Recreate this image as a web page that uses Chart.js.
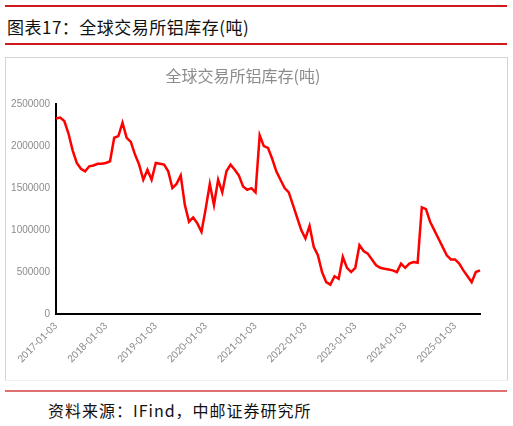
<!DOCTYPE html>
<html><head><meta charset="utf-8">
<script src="https://cdn.jsdelivr.net/npm/chart.js@4"></script>
<style>
body{margin:0;width:513px;height:426px;background:#fff;font-family:"Noto Sans CJK SC",sans-serif;position:relative;overflow:hidden}
.l{position:absolute;left:5px;width:502px;height:1.5px;background:#d0191c}
#hd{position:absolute;left:7px;top:14px;font-size:17px;color:#111;letter-spacing:0.5px}
#box{position:absolute;left:5px;top:57px;width:501px;height:322px;border:1px solid #d4d4d4;border-bottom-color:#f0f0f0;overflow:hidden}
#src{position:absolute;left:48px;top:398px;font-size:16px;color:#111;letter-spacing:1px}
</style></head><body>
<div class="l" style="top:5px"></div>
<div id="hd">图表17：全球交易所铝库存(吨)</div>
<div class="l" style="top:43px"></div>
<div id="box"><canvas id="c" width="501" height="322"></canvas></div>
<div class="l" style="top:390px;background:#e07070"></div>
<div id="src">资料来源：IFind，中邮证券研究所</div>
<script>
const years=[2017,2018,2019,2020,2021,2022,2023,2024,2025];
const v2017=[2330000,2340000,2300000,2150000,1950000,1800000,1730000,1700000,1760000,1770000,1790000,1790000];
const v2018=[1800000,1820000,2100000,2120000,2280000,2100000,2050000,1900000,1780000,1600000,1720000,1600000];
const v2019=[1800000,1790000,1780000,1700000,1500000,1550000,1650000,1300000,1100000,1150000,1080000,980000];
const v2020=[1250000,1550000,1300000,1600000,1450000,1700000,1780000,1720000,1650000,1520000,1480000,1500000];
const v2021=[1450000,2130000,2000000,1980000,1850000,1700000,1600000,1500000,1450000,1300000,1150000,1000000];
const v2022=[900000,1050000,800000,700000,500000,380000,350000,450000,420000,680000,550000,500000];
const v2023=[550000,820000,750000,720000,650000,580000,550000,540000,530000,520000,500000,600000];
const v2024=[550000,600000,620000,610000,1270000,1250000,1100000,1000000,900000,800000,700000,650000];
const v2025=[650000,600000,520000,450000,380000,500000,520000];
const series=[v2017,v2018,v2019,v2020,v2021,v2022,v2023,v2024,v2025];
const labels=[],values=[];
series.forEach((arr,i)=>arr.forEach((v,m)=>{labels.push(years[i]+'-'+String(m+1).padStart(2,'0')+'-03');values.push(v);}));
new Chart(document.getElementById('c'),{type:'line',
data:{labels,datasets:[{data:values,borderColor:'#ff0000',borderWidth:2.5,pointRadius:0,tension:0}]},
options:{animation:false,responsive:false,
layout:{padding:{right:27,top:0}},
plugins:{legend:{display:false},tooltip:{enabled:false},
 title:{display:true,text:'全球交易所铝库存(吨)',color:'#8c8c8c',font:{size:16,family:'"Noto Sans CJK SC"',weight:'normal'},padding:{top:8,bottom:19}}},
scales:{
 x:{grid:{display:false,drawTicks:false},border:{color:'#000',width:2},
  afterFit:s=>{s.height=66},
  ticks:{autoSkip:false,maxRotation:45,minRotation:45,color:'#8c8c8c',font:{size:11,family:'Carlito,"Liberation Sans"'},padding:6,
   callback:function(v){const l=this.getLabelForValue(v);return l.slice(5,7)==='01'?l:null;}}},
 y:{min:0,max:2500000,grid:{display:false,drawTicks:false},border:{color:'#000',width:2},
  afterFit:s=>{s.width=50},
  ticks:{stepSize:500000,color:'#8c8c8c',font:{size:10,family:'"Liberation Sans"'},padding:6,callback:v=>String(v)}}
}}});
</script></body></html>
